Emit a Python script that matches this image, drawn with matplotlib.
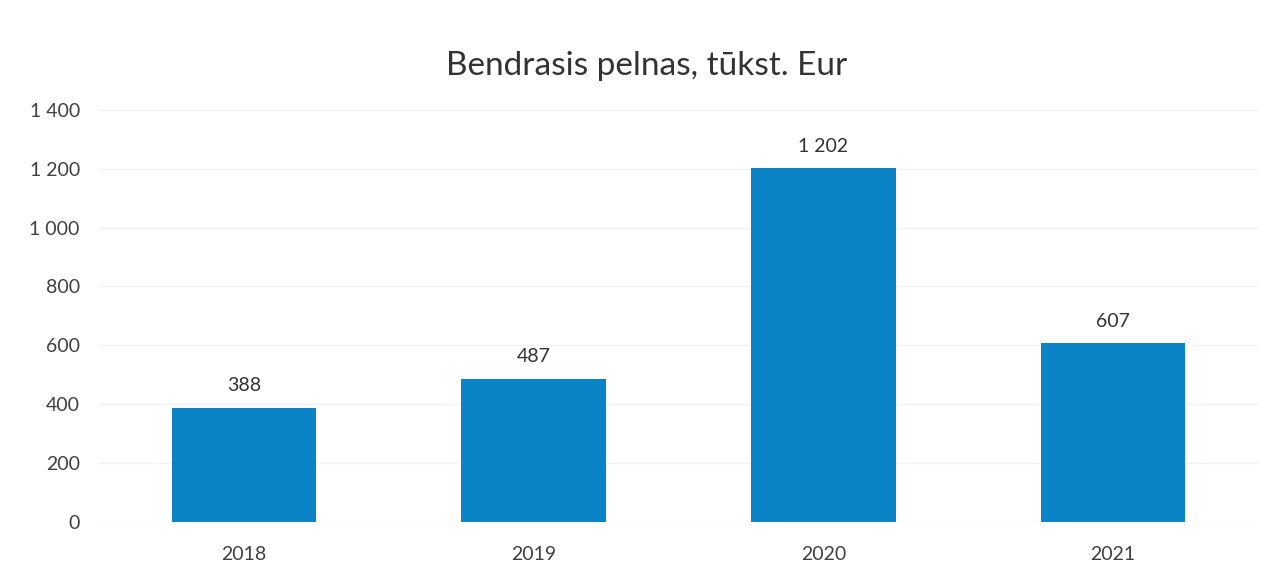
import matplotlib
matplotlib.use("Agg")
import matplotlib.pyplot as plt
from matplotlib.ticker import FuncFormatter

# Duomenys
metai = ["2018", "2019", "2020", "2021"]
pelnas = [388, 487, 1202, 607]

plt.rcParams['font.family'] = ['Lato', 'DejaVu Sans']

fig = plt.figure(figsize=(12.73, 5.78), dpi=100)
ax = fig.add_axes([0.078, 0.097, 0.91, 0.713])

x = range(len(metai))
bars = ax.bar(x, pelnas, width=0.5, color='#0a84c6', zorder=3)

def tarpas(v, pos):
    return f"{int(v):,}".replace(",", " ")

for b, v in zip(bars, pelnas):
    ax.text(b.get_x() + b.get_width() / 2, v + 45, tarpas(v, None),
            ha='center', va='bottom', fontsize=14, color='#333333')

ax.set_xlim(-0.5, 3.5)
ax.set_ylim(0, 1400)
ax.set_yticks(range(0, 1401, 200))
ax.yaxis.set_major_formatter(FuncFormatter(tarpas))
ax.set_xticks(list(x))
ax.set_xticklabels(metai)
ax.tick_params(axis='both', length=0, labelsize=14, labelcolor='#404040')
ax.tick_params(axis='x', pad=17)
ax.tick_params(axis='y', pad=14)
ax.grid(axis='y', color='#f2f2f2', linewidth=1, zorder=0)
for s in ax.spines.values():
    s.set_visible(False)

fig.suptitle("Bendrasis pelnas, tūkst. Eur", fontsize=24, color='#333333', x=0.508, y=0.912)

plt.savefig("out.png", dpi=100)
